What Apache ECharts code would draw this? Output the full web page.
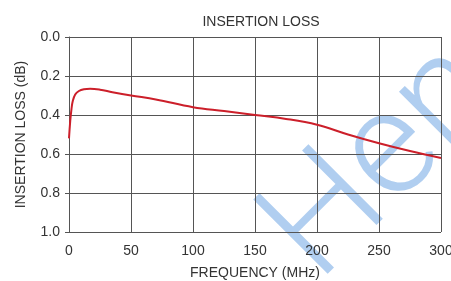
<!DOCTYPE html>
<html>
<head>
<meta charset="utf-8">
<script src="https://cdn.jsdelivr.net/npm/echarts@6/dist/echarts.min.js"></script>
<style>
html,body{margin:0;padding:0;background:#fff;}
#chart{width:451px;height:281px;}
</style>
</head>
<body>
<div id="chart"></div>
<script>
var titleText = 'INSERTION LOSS';
var xName = 'FREQUENCY (MHz)';
var yName = 'INSERTION LOSS (dB)';
var watermarkText = 'Hen';
var frequency = [0, 1, 2, 3, 5, 8, 12, 17, 25, 35, 50, 70, 100, 125, 150, 175, 200, 225, 250, 275, 300];
var loss = [0.52, 0.43, 0.37, 0.33, 0.295, 0.277, 0.268, 0.265, 0.27, 0.283, 0.30, 0.32, 0.36, 0.38, 0.40, 0.42, 0.45, 0.50, 0.545, 0.585, 0.62];
var xTicks = [0, 50, 100, 150, 200, 250, 300];
var yTicks = [0.0, 0.2, 0.4, 0.6, 0.8, 1.0];

var points = frequency.map(function (f, i) { return [f, loss[i]]; });
var font = 'Liberation Sans, Arial, sans-serif';
var chart = echarts.init(document.getElementById('chart'), null, {renderer: 'canvas'});
chart.setOption({
  animation: false,
  backgroundColor: '#fff',
  title: {
    text: titleText, left: 256, top: 10, textAlign: 'center',
    textStyle: {fontFamily: font, fontSize: 14, fontWeight: 'normal', color: '#333'}
  },
  grid: {left: 69, right: 10, top: 37, bottom: 49, containLabel: false, outerBoundsMode: 'none'},
  xAxis: {
    type: 'value', min: xTicks[0], max: xTicks[xTicks.length - 1], interval: 50,
    name: xName, nameLocation: 'middle', nameGap: 34,
    nameTextStyle: {fontFamily: font, fontSize: 14, color: '#333'},
    axisLine: {show: true, lineStyle: {color: '#555', width: 1}},
    axisTick: {show: true, length: 4, lineStyle: {color: '#555'}},
    axisLabel: {fontFamily: font, fontSize: 14, color: '#333', margin: 12},
    splitLine: {show: true, lineStyle: {color: '#555', width: 1}}
  },
  yAxis: {
    type: 'value', inverse: true, min: yTicks[0], max: yTicks[yTicks.length - 1], interval: 0.2,
    name: yName, nameLocation: 'middle', nameGap: 41,
    nameTextStyle: {fontFamily: font, fontSize: 14, color: '#333'},
    axisLine: {show: true, lineStyle: {color: '#555', width: 1}},
    axisTick: {show: true, length: 4, lineStyle: {color: '#555'}},
    axisLabel: {fontFamily: font, fontSize: 14, color: '#333', margin: 9,
      formatter: function (v) { return v.toFixed(1); }},
    splitLine: {show: true, lineStyle: {color: '#555', width: 1}}
  },
  graphic: [{
    type: 'text', z: -1, x: 292, y: 257, rotation: 45 * Math.PI / 180,
    style: {text: watermarkText, font: '300 148px Roboto, Liberation Sans, sans-serif',
      fill: 'rgba(150,190,235,0.75)', textAlign: 'left', textVerticalAlign: 'middle'}
  }],
  series: [{
    type: 'line', data: points, smooth: 0.4, symbol: 'none', z: 5,
    lineStyle: {color: '#cc1f2a', width: 2}
  }]
});
</script>
</body>
</html>
